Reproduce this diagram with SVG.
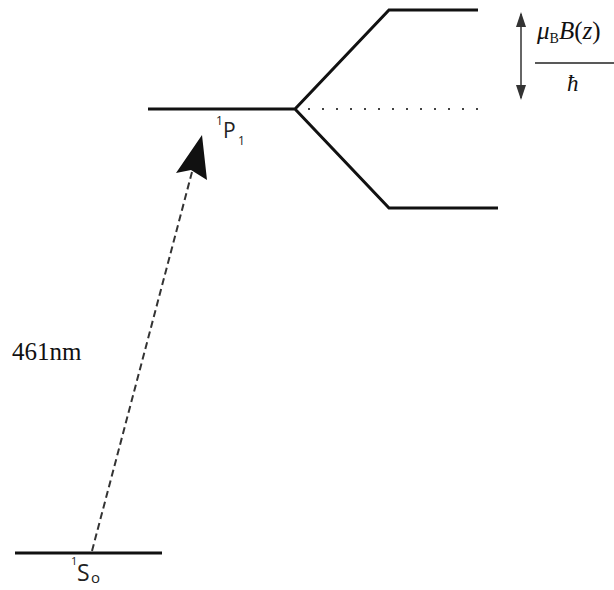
<svg xmlns="http://www.w3.org/2000/svg" width="614" height="590" viewBox="0 0 614 590">
<style>
.lvl{stroke:#111;stroke-width:3;fill:none;stroke-linejoin:miter}
.sans{font-family:"Open Sans","DejaVu Sans",sans-serif;fill:#222}
.serif{font-family:"Liberation Serif","DejaVu Serif",serif;fill:#111}
</style>
<rect width="614" height="590" fill="#fff"/>
<g id="P1">
<path class="lvl" d="M148,109 H295 L389,10 H478 M295,109 L389,208 H498"/>
<line x1="308" y1="109" x2="482" y2="109" stroke="#444" stroke-width="2" stroke-dasharray="2,12"/>
<text class="sans" x="216" y="125" font-size="12">1</text>
<text class="sans" x="223" y="138" font-size="21">P</text>
<text class="sans" x="238" y="145" font-size="12">1</text>
</g>
<g id="S0">
<line class="lvl" x1="15" y1="553" x2="162" y2="553" stroke-width="2.5"/>
<text class="sans" x="71" y="565" font-size="11">1</text>
<text class="sans" x="77" y="581" font-size="23">S</text>
<text class="sans" x="91" y="583" font-size="15">o</text>
</g>
<g id="label461">
<text class="serif" x="12" y="360" font-size="25">461nm</text>
</g>
<g id="splitting">
<line x1="521" y1="14" x2="521" y2="98" stroke="#333" stroke-width="1.5"/>
<path d="M516,27 L521,12 L526,27 Z" fill="#333"/>
<path d="M516,85 L521,100 L526,85 Z" fill="#333"/>
<text class="serif" x="537" y="39" font-size="25" font-style="italic">μ<tspan font-size="14" font-style="normal" dy="4">B</tspan><tspan dy="-4">B</tspan><tspan font-style="normal">(</tspan>z<tspan font-style="normal">)</tspan></text>
<line x1="535" y1="63" x2="614" y2="63" stroke="#222" stroke-width="1.5"/>
<text class="serif" x="567" y="91" font-size="23" font-style="italic">ħ</text>
</g>
<g id="connectors">
<line x1="92" y1="551" x2="192" y2="172" stroke="#333" stroke-width="2" stroke-dasharray="7,4"/>
<path d="M202,135 L176,173 L191,170 L207,180 Z" fill="#111"/>
</g>
</svg>
